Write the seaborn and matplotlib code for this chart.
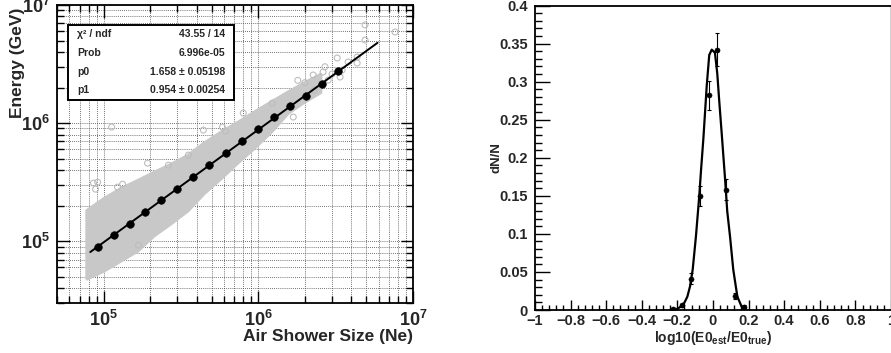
import math
import matplotlib
matplotlib.use("Agg")
import matplotlib.pyplot as plt
import matplotlib.ticker as mticker
from matplotlib.patches import Rectangle
import seaborn as sns

# ---------------- data: left panel ----------------
# dense gray cloud (envelope)
band_ne = [77600, 1.0e5, 128800, 165600, 210400, 270400, 348300, 441600, 568900,
           732800, 929000, 1.194e6, 1.538e6, 1.950e6, 2.512e6]
band_hi = [183200, 231200, 281200, 328900, 384600, 449800, 535800, 677600, 839500,
           1.019e6, 1.239e6, 1.507e6, 1.832e6, 2.183e6, 2.600e6]
band_lo = [48530, 56750, 69020, 83950, 112500, 142200, 183200, 255300, 342000,
           466700, 613800, 839500, 1.216e6, 1.507e6, 1.832e6]
# isolated gray circles
out_ne = [112700, 86100, 91500, 88700, 123000, 132700, 168300, 192300, 262400,
          353200, 441600, 586100, 612300, 800000, 1.230e6, 1.683e6, 2.264e6,
          2.624e6, 2.831e6, 3.236e6, 3.483e6, 3.808e6, 4.355e6, 4.355e6, 3.381e6,
          4.898e6, 4.898e6, 7.656e6, 2.0e6, 2.3e6, 2.7e6, 3.0e6, 1.8e6]
out_e = [924700, 310500, 316200, 276100, 287100, 304100, 92500, 458100, 440600,
         535800, 873000, 924700, 855100, 1.216e6, 1.476e6, 1.125e6, 2.553e6,
         2.704e6, 2.312e6, 3.556e6, 2.812e6, 3.289e6, 3.622e6, 3.221e6, 2.455e6,
         6.776e6, 5.047e6, 5.902e6, 2.2e6, 1.9e6, 3.0e6, 2.6e6, 2.3e6]
# profile points (black)
prof_ne = [91400, 116100, 147200, 184100, 236600, 299900, 381100, 483100, 622300,
           788800, 1.0e6, 1.268e6, 1.607e6, 2.042e6, 2.588e6, 3.281e6]
prof_e = [88920, 112500, 139300, 176200, 222300, 276100, 348300, 440600, 557200,
          703100, 889200, 1.125e6, 1.393e6, 1.694e6, 2.143e6, 2.761e6]
# fit line end points
fit_ne = [8.2e4, 5.9e6]
fit_e = [8.1e4, 4.78e6]

stat_names = ["\u03c7\u00b2 / ndf", "Prob", "p0", "p1"]
stat_values = ["43.55 / 14", "6.996e-05", "1.658 \u00b1 0.05198", "0.954 \u00b1 0.00254"]

# ---------------- data: right panel ----------------
bin_x = [-0.225, -0.175, -0.125, -0.075, -0.025, 0.025, 0.075, 0.125, 0.175]
dn = [0.001, 0.006, 0.041, 0.150, 0.282, 0.342, 0.158, 0.018, 0.004]
dn_err = [0.001, 0.002, 0.007, 0.013, 0.019, 0.022, 0.014, 0.004, 0.002]
curve_x = [-0.24, -0.204, -0.181, -0.167, -0.144, -0.129, -0.114, -0.096, -0.077,
           -0.067, -0.054, -0.035, -0.021, -0.007, 0.011, 0.024, 0.035, 0.049,
           0.067, 0.080, 0.096, 0.114, 0.137, 0.161, 0.189]
curve_y = [0.0, 0.001, 0.0044, 0.0066, 0.0175, 0.031, 0.053, 0.096, 0.150,
           0.184, 0.225, 0.295, 0.335, 0.342, 0.338, 0.311, 0.275, 0.232,
           0.175, 0.130, 0.096, 0.053, 0.0175, 0.0044, 0.0]

# ---------------- style ----------------
sns.set_style("white")
plt.rcParams["font.family"] = ["Liberation Sans", "DejaVu Sans"]
plt.rcParams["font.weight"] = "bold"
plt.rcParams["axes.labelweight"] = "bold"
plt.rcParams["mathtext.fontset"] = "custom"
plt.rcParams["mathtext.rm"] = "Liberation Sans:bold"
plt.rcParams["mathtext.bf"] = "Liberation Sans:bold"
plt.rcParams["mathtext.it"] = "Liberation Sans:bold"
plt.rcParams["axes.unicode_minus"] = True

fig = plt.figure(figsize=(8.91, 3.53), dpi=100)
ax1 = fig.add_axes([0.064, 0.1416, 0.3995, 0.8444])
ax2 = fig.add_axes([0.6004, 0.1218, 0.3996, 0.8626])

# ---------------- left panel ----------------
ax1.set_xscale("log")
ax1.set_yscale("log")
ax1.set_xlim(5e4, 1e7)
ax1.set_ylim(3e4, 1e7)
ax1.set_axisbelow(True)
ax1.grid(True, which="both", linestyle=(0, (1, 1.5)), linewidth=0.6, color="#444444")

ax1.fill_between(band_ne, band_lo, band_hi, color="#c8c8c8", edgecolor="#c8c8c8",
                 linewidth=2.5, zorder=2)
sns.scatterplot(x=out_ne, y=out_e, ax=ax1, marker="o", s=18, facecolors="none",
                edgecolor="#bdbdbd", linewidth=0.8, zorder=2)
sns.lineplot(x=fit_ne, y=fit_e, ax=ax1, color="black", linewidth=1.4, zorder=3)
sns.scatterplot(x=prof_ne, y=prof_e, ax=ax1, color="black", s=30, edgecolor="black",
                zorder=4)

ax1.xaxis.set_major_locator(mticker.LogLocator(base=10, numticks=10))
ax1.xaxis.set_minor_locator(mticker.LogLocator(base=10, subs=range(2, 10), numticks=20))
ax1.yaxis.set_major_locator(mticker.LogLocator(base=10, numticks=10))
ax1.yaxis.set_minor_locator(mticker.LogLocator(base=10, subs=range(2, 10), numticks=20))
fmt = mticker.FuncFormatter(lambda v, p: r"$\mathbf{10^{%d}}$" % round(math.log10(v)))
ax1.xaxis.set_major_formatter(fmt)
ax1.yaxis.set_major_formatter(fmt)
ax1.xaxis.set_minor_formatter(mticker.NullFormatter())
ax1.yaxis.set_minor_formatter(mticker.NullFormatter())
ax1.tick_params(which="both", direction="in", top=True, right=True, bottom=True,
                left=True, width=1.0, color="black")
ax1.tick_params(which="major", length=9, labelsize=13, pad=5)
ax1.tick_params(which="minor", length=5)
for s in ax1.spines.values():
    s.set_color("black")
    s.set_linewidth(1.3)

ax1.set_xlabel("Air Shower Size (Ne)", fontsize=12.5, fontweight="bold", loc="right")
ax1.set_ylabel("Energy (GeV)", fontsize=12.5, fontweight="bold", loc="top")
ax1.xaxis.set_label_coords(1.0, -0.088)
ax1.yaxis.set_label_coords(-0.09, 0.99)

ax1.add_patch(Rectangle((0.031, 0.681), 0.466, 0.252, transform=ax1.transAxes,
                        facecolor="white", edgecolor="black", linewidth=1.4, zorder=6))
row_y = [0.903, 0.839, 0.775, 0.715]
for name, val, yy in zip(stat_names, stat_values, row_y):
    ax1.text(0.056, yy, name, transform=ax1.transAxes, fontsize=7.5, fontweight="bold",
             va="center", ha="left", zorder=7)
    ax1.text(0.472, yy, val, transform=ax1.transAxes, fontsize=7.5, fontweight="bold",
             va="center", ha="right", zorder=7)

# ---------------- right panel ----------------
ax2.set_xlim(-1, 1)
ax2.set_ylim(0, 0.4)
ax2.errorbar(bin_x, dn, yerr=dn_err, fmt="none", ecolor="black", elinewidth=0.8,
             capsize=1.5, capthick=0.8, zorder=3)
sns.lineplot(x=curve_x, y=curve_y, ax=ax2, color="black", linewidth=1.6, sort=False,
             zorder=2)
sns.scatterplot(x=bin_x, y=dn, ax=ax2, color="black", s=14, edgecolor="black", zorder=4)

ax2.xaxis.set_major_locator(mticker.MultipleLocator(0.2))
ax2.xaxis.set_minor_locator(mticker.MultipleLocator(0.04))
ax2.yaxis.set_major_locator(mticker.MultipleLocator(0.05))
ax2.yaxis.set_minor_locator(mticker.MultipleLocator(0.01))
gfmt = mticker.FuncFormatter(lambda v, p: ("%g" % round(v, 3)).replace("-", "\u2212"))
ax2.xaxis.set_major_formatter(gfmt)
ax2.yaxis.set_major_formatter(gfmt)
ax2.tick_params(which="both", direction="in", top=False, right=False, bottom=True,
                left=True, width=1.0, color="black", labelsize=10.5)
ax2.tick_params(axis="x", which="major", length=7, pad=3)
ax2.tick_params(axis="x", which="minor", length=3.5)
ax2.tick_params(axis="y", which="major", length=11, pad=5)
ax2.tick_params(axis="y", which="minor", length=5)
for s in ax2.spines.values():
    s.set_color("black")
    s.set_linewidth(1.3)
ax2.spines["right"].set_color("#cccccc")

ax2.set_xlabel(r"log10(E0$_{\mathrm{est}}$/E0$_{\mathrm{true}}$)", fontsize=10,
               fontweight="bold")
ax2.set_ylabel("dN/N", fontsize=9.5, fontweight="bold")
ax2.xaxis.set_label_coords(0.5, -0.062)
ax2.yaxis.set_label_coords(-0.09, 0.5)
ax2.xaxis.label.set_va("top")

fig.savefig("out.png", dpi=100)
